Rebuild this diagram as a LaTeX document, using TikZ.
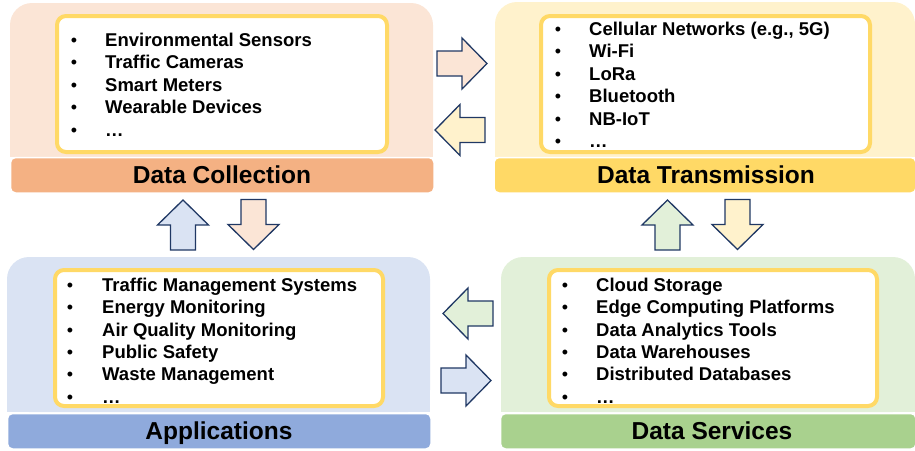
\documentclass[tikz,border=0pt]{standalone}
\usepackage{fontspec}
\setmainfont{Liberation Sans}

\definecolor{peachbg}{HTML}{FBE5D6}
\definecolor{peachbar}{HTML}{F4B183}
\definecolor{yellowbg}{HTML}{FFF2CC}
\definecolor{yellowbar}{HTML}{FFD966}
\definecolor{bluebg}{HTML}{DAE3F3}
\definecolor{bluebar}{HTML}{8FAADC}
\definecolor{greenbg}{HTML}{E2F0D9}
\definecolor{greenbar}{HTML}{A9D18E}
\definecolor{listframe}{HTML}{FFD966}
\definecolor{arrowline}{HTML}{203864}

\tikzset{
  titlebar/.style={draw=white, line width=1.5pt, rounded corners=5pt},
  listbox/.style={draw=listframe, line width=4pt, fill=white, rounded corners=9pt},
  itemtext/.style={anchor=base west, inner sep=0pt, font=\bfseries\fontsize{18.5}{18.5}\selectfont},
  bulletdot/.style={anchor=base, inner sep=0pt, font=\fontsize{18}{18}\selectfont},
  titletext/.style={anchor=base, inner sep=0pt, font=\bfseries\fontsize{24.5}{24.5}\selectfont},
  flowarrow/.style={draw=arrowline, line width=1.3pt, line join=miter},
}

% background of a layer: rounded top, square bottom
\newcommand\layerback[5]{%
  \fill[#5, rounded corners=22pt] (#1,#2) rectangle (#3,#4);
  \fill[#5] (#1,{#4-40}) rectangle (#3,#4);}

% block arrow: base centre at (#1,#2), rotated by #3, filled with #4
\newcommand\blockarrow[4]{%
  \draw[flowarrow, fill=#4, shift={(#1,#2)}, rotate=#3]
    (0,-12.5) -- (25,-12.5) -- (25,-25.5) -- (50,0) -- (25,25.5)
    -- (25,12.5) -- (0,12.5) -- cycle;}

\begin{document}
\begin{tikzpicture}[x=1pt, y=-1pt]
\useasboundingbox (0,0) rectangle (915,450);

% ---------- Data Collection ----------
\layerback{10}{3}{433}{157}{peachbg}
\fill[peachbar, titlebar] (10.5,157.5) rectangle (434,193);
\draw[listbox] (57,16) rectangle (387,152);
\foreach \t [count=\i] in {Environmental Sensors, Traffic Cameras, Smart Meters, Wearable Devices, …} {
  \node[bulletdot] (dcb\i) at (74, {46+22.5*(\i-1)}) {•};
  \node[itemtext] (dct\i) at (105, {46+22.5*(\i-1)}) {\t};
}
\node[titletext] (dctitle) at (222,183.6) {Data Collection};

% ---------- Data Transmission ----------
\layerback{495}{2}{915}{157}{yellowbg}
\fill[yellowbar, titlebar] (494,157.5) rectangle (916,193);
\draw[listbox] (541,16) rectangle (870,152);
\foreach \t [count=\i] in {{Cellular Networks (e.g., 5G)}, Wi-Fi, LoRa, Bluetooth, NB-IoT, …} {
  \node[bulletdot] (dtb\i) at (558, {35+22.5*(\i-1)}) {•};
  \node[itemtext] (dtt\i) at (589, {35+22.5*(\i-1)}) {\t};
}
\node[titletext] (dttitle) at (706,183.6) {Data Transmission};

% ---------- Applications ----------
\layerback{7}{257}{430}{412}{bluebg}
\fill[bluebar, titlebar] (7.5,413.5) rectangle (431,449);
\draw[listbox] (55,270) rectangle (383,406);
\foreach \t [count=\i] in {Traffic Management Systems, Energy Monitoring, Air Quality Monitoring, Public Safety, Waste Management, …} {
  \node[bulletdot] (apb\i) at (70, {291.5+22.3*(\i-1)}) {•};
  \node[itemtext] (apt\i) at (102, {291.5+22.3*(\i-1)}) {\t};
}
\node[titletext] (aptitle) at (219,439.7) {Applications};

% ---------- Data Services ----------
\layerback{501}{257}{915}{412}{greenbg}
\fill[greenbar, titlebar] (500.5,413.5) rectangle (916,449);
\draw[listbox] (549,270) rectangle (877,406);
\foreach \t [count=\i] in {Cloud Storage, Edge Computing Platforms, Data Analytics Tools, Data Warehouses, Distributed Databases, …} {
  \node[bulletdot] (dsb\i) at (565, {291.5+22.3*(\i-1)}) {•};
  \node[itemtext] (dst\i) at (596, {291.5+22.3*(\i-1)}) {\t};
}
\node[titletext] (dstitle) at (712,439.7) {Data Services};

% ---------- flow arrows between the layers ----------
\blockarrow{437}{63.5}{0}{peachbg}
\blockarrow{485}{130}{180}{yellowbg}
\blockarrow{183}{250}{90}{bluebg}
\blockarrow{253.5}{199.5}{-90}{peachbg}
\blockarrow{667.5}{250}{90}{greenbg}
\blockarrow{737.5}{199.5}{-90}{yellowbg}
\blockarrow{493}{313.5}{180}{greenbg}
\blockarrow{441}{380.5}{0}{bluebg}
\end{tikzpicture}
\end{document}
